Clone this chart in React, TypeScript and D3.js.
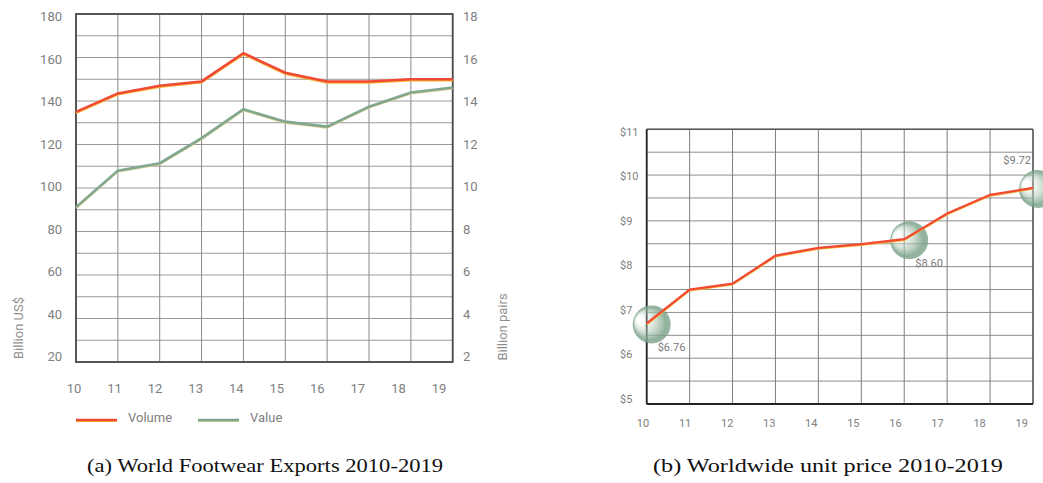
import React from "react";
import * as d3 from "d3";

const years = [10, 11, 12, 13, 14, 15, 16, 17, 18, 19];
const volumePairs = [13.5, 14.35, 14.7, 14.9, 16.2, 15.3, 14.9, 14.9, 15.0, 15.0];
const valueUSD = [91.2, 108, 111.4, 122.9, 136.2, 130.5, 128.2, 137.4, 143.9, 146.2];
const leftTicks = [20, 40, 60, 80, 100, 120, 140, 160, 180];
const rightTicks = [2, 4, 6, 8, 10, 12, 14, 16, 18];
const unitPrice = [6.76, 7.5, 7.63, 8.24, 8.41, 8.49, 8.6, 9.16, 9.57, 9.72];
const priceTicks = [5, 6, 7, 8, 9, 10, 11];
const highlights = [
  { index: 0, text: "$6.76" },
  { index: 6, text: "$8.60" },
  { index: 9, text: "$9.72" },
];

const RED = "#f04a35";
const YEL = "#f7b733";
const GREEN = "#7fa88e";
const TICK = "#808080";
const FONT = "Roboto, 'Noto Sans', sans-serif";

export default function App() {
  // Left chart
  const xL = d3.scaleLinear().domain([10, 19]).range([76, 452.7]);
  const yL = d3.scaleLinear().domain([20, 180]).range([362, 14]);
  const yR = d3.scaleLinear().domain([2, 18]).range([362, 14]);
  const xLabL = d3.scaleLinear().domain([10, 19]).range([74, 439]);
  const yLabL = d3.scaleLinear().domain([20, 180]).range([356.7, 16.7]);
  const hGridL = d3.range(20, 181, 10);

  const lineVol = d3
    .line<number>()
    .x((_, i) => xL(years[i]))
    .y((d) => yR(d));
  const lineVal = d3
    .line<number>()
    .x((_, i) => xL(years[i]))
    .y((d) => yL(d));

  // Right chart
  const xP = d3.scaleLinear().domain([10, 19]).range([646.7, 1033]);
  const yP = d3.scaleLinear().domain([5, 11]).range([404, 129.3]);
  const xLabP = d3.scaleLinear().domain([10, 19]).range([643, 1021.7]);
  const yLabP = d3.scaleLinear().domain([5, 11]).range([398.7, 131.7]);
  const hGridP = d3.range(5, 11.01, 0.5);
  const linePrice = d3
    .line<number>()
    .x((_, i) => xP(years[i]))
    .y((d) => yP(d));

  return (
    <svg
      width={1043}
      height={483}
      style={{ position: "absolute", left: 0, top: 0, background: "#fff" }}
    >
      <defs>
        <radialGradient id="ball" cx="0.5" cy="0.5" r="0.5" fx="0.12" fy="0.35">
          <stop offset="0%" stopColor="#ffffff" stopOpacity={0} />
          <stop offset="40%" stopColor="#c8dacd" stopOpacity={0.45} />
          <stop offset="85%" stopColor="#7da48a" stopOpacity={0.85} />
          <stop offset="100%" stopColor="#749d82" stopOpacity={0.75} />
        </radialGradient>
        <clipPath id="imgclip">
          <rect x={0} y={0} width={1043} height={483} />
        </clipPath>
      </defs>

      {/* ---------- Left chart ---------- */}
      <g>
        {hGridL.map((v) => (
          <line key={"h" + v} x1={xL(10)} x2={xL(19)} y1={yL(v)} y2={yL(v)} stroke="#9a9a9a" strokeWidth={1} />
        ))}
        {years.map((y) => (
          <line key={"v" + y} x1={xL(y)} x2={xL(y)} y1={yL(20)} y2={yL(180)} stroke="#8a8a8a" strokeWidth={1} />
        ))}
        <rect x={xL(10)} y={yL(180)} width={xL(19) - xL(10)} height={yL(20) - yL(180)} fill="none" stroke="#4a4a4a" strokeWidth={1.8} />

        <path d={lineVal(valueUSD) || ""} fill="none" stroke="#d8c98a" strokeWidth={2} transform="translate(0,1)" />
        <path d={lineVal(valueUSD) || ""} fill="none" stroke={GREEN} strokeWidth={2.6} />
        <path d={lineVol(volumePairs) || ""} fill="none" stroke={YEL} strokeWidth={2} transform="translate(0,1.2)" />
        <path d={lineVol(volumePairs) || ""} fill="none" stroke={RED} strokeWidth={2.6} />

        {leftTicks.map((t) => (
          <text key={"lt" + t} x={62} y={yLabL(t)} dy="0.35em" textAnchor="end" fontFamily={FONT} fontSize={13} fill={TICK}>
            {t}
          </text>
        ))}
        {rightTicks.map((t) => (
          <text key={"rt" + t} x={463} y={yLabL(t * 10)} dy="0.35em" textAnchor="start" fontFamily={FONT} fontSize={13} fill={TICK}>
            {t}
          </text>
        ))}
        {years.map((y) => (
          <text key={"xt" + y} x={xLabL(y)} y={388} dy="0.35em" textAnchor="middle" fontFamily={FONT} fontSize={13} fill={TICK}>
            {y}
          </text>
        ))}
        <text transform="translate(18,328) rotate(-90)" textAnchor="middle" dy="0.35em" fontFamily={FONT} fontSize={13} fill="#8e8e8e">
          Billion US$
        </text>
        <text transform="translate(502,327) rotate(-90)" textAnchor="middle" dy="0.35em" fontFamily={FONT} fontSize={13} fill="#8e8e8e">
          Billion pairs
        </text>

        {/* legend */}
        <line x1={76} x2={117} y1={421} y2={421} stroke={YEL} strokeWidth={2} />
        <line x1={76} x2={117} y1={420} y2={420} stroke={RED} strokeWidth={2.4} />
        <text x={128} y={417} dy="0.35em" fontFamily={FONT} fontSize={13} fill={TICK}>
          Volume
        </text>
        <line x1={198} x2={239} y1={421} y2={421} stroke="#d8c98a" strokeWidth={2} />
        <line x1={198} x2={239} y1={420} y2={420} stroke={GREEN} strokeWidth={2.4} />
        <text x={250} y={417} dy="0.35em" fontFamily={FONT} fontSize={13} fill={TICK}>
          Value
        </text>

        <text x={265} y={466} dy="0.35em" textAnchor="middle" fontFamily="'Liberation Serif', 'DejaVu Serif', serif" fontSize={18.5} fill="#111" textLength={356} lengthAdjust="spacingAndGlyphs">
          (a) World Footwear Exports 2010-2019
        </text>
      </g>

      {/* ---------- Right chart ---------- */}
      <g clipPath="url(#imgclip)">
        {hGridP.map((v) => (
          <line key={"ph" + v} x1={xP(10)} x2={xP(19)} y1={yP(v)} y2={yP(v)} stroke="#8f8f8f" strokeWidth={1} />
        ))}
        {years.map((y) => (
          <line key={"pv" + y} x1={xP(y)} x2={xP(y)} y1={yP(5)} y2={yP(11)} stroke="#7f7f7f" strokeWidth={1} />
        ))}
        <line x1={xP(10)} x2={xP(19)} y1={yP(11)} y2={yP(11)} stroke="#555" strokeWidth={1.4} />
        <line x1={xP(19)} x2={xP(19)} y1={yP(5)} y2={yP(11)} stroke="#555" strokeWidth={1.4} />
        <line x1={xP(10)} x2={xP(10)} y1={yP(5)} y2={yP(11)} stroke="#222" strokeWidth={1.8} />
        <line x1={xP(10)} x2={xP(19)} y1={yP(5)} y2={yP(5)} stroke="#222" strokeWidth={1.8} />

        {highlights.map((h) => (
          <circle key={"c" + h.index} cx={xP(years[h.index]) + 5} cy={yP(unitPrice[h.index]) + 1} r={19} fill="url(#ball)" />
        ))}

        <path d={linePrice(unitPrice) || ""} fill="none" stroke={YEL} strokeWidth={1.8} transform="translate(0,1)" />
        <path d={linePrice(unitPrice) || ""} fill="none" stroke={RED} strokeWidth={2.3} />

        {highlights.map((h) => {
          const px = xP(years[h.index]);
          const py = yP(unitPrice[h.index]);
          const last = h.index === years.length - 1;
          return (
            <text
              key={"hl" + h.index}
              x={last ? px - 2 : px + 11}
              y={last ? py - 28 : py + 24}
              dy="0.35em"
              textAnchor={last ? "end" : "start"}
              fontFamily={FONT}
              fontSize={11}
              fill="#7a7a7a"
            >
              {h.text}
            </text>
          );
        })}

        {priceTicks.map((t) => (
          <text key={"pt" + t} x={620} y={yLabP(t)} dy="0.35em" textAnchor="start" fontFamily={FONT} fontSize={11} fill={TICK}>
            {"$" + t}
          </text>
        ))}
        {years.map((y) => (
          <text key={"px" + y} x={xLabP(y)} y={423} dy="0.35em" textAnchor="middle" fontFamily={FONT} fontSize={11} fill={TICK}>
            {y}
          </text>
        ))}

        <text x={828} y={466} dy="0.35em" textAnchor="middle" fontFamily="'Liberation Serif', 'DejaVu Serif', serif" fontSize={18.5} fill="#111" textLength={350} lengthAdjust="spacingAndGlyphs">
          (b) Worldwide unit price 2010-2019
        </text>
      </g>
    </svg>
  );
}
